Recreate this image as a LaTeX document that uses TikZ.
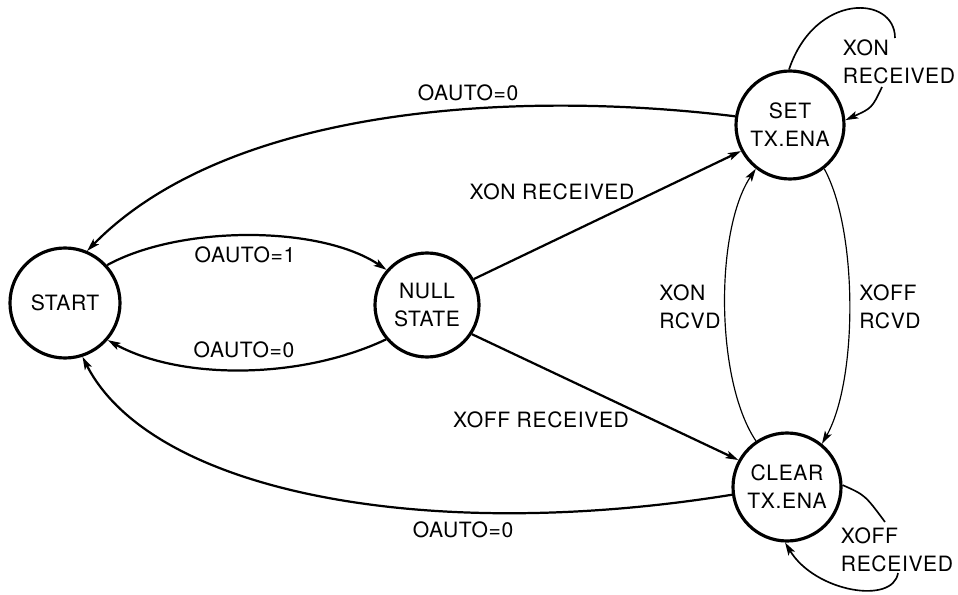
\documentclass[tikz,border=0pt]{standalone}
\usepackage{fontspec}
\setmainfont{TeX Gyre Heros}[LetterSpace=3]
\usetikzlibrary{arrows.meta}
\begin{document}
\begin{tikzpicture}[x=0.03cm,y=-0.03cm,
  txt/.style={font=\fontsize{18}{24}\selectfont},
  stnode/.style={circle,draw,line width=2.7pt,minimum size=3.24cm,inner sep=0pt,align=center,txt},
  lbl/.style={txt,inner sep=0pt,align=left},
  tip/.style={-{Stealth[length=11pt,width=6.5pt,inset=2.5pt]}},
  mainedge/.style={tip,line width=1.9pt},
  thinedge/.style={tip,line width=1pt},
  loopedge/.style={line width=1.4pt}]
\useasboundingbox (0,0) rectangle (958,595);
% states
\node[stnode,minimum size=3.3cm] (start) at (65,303) {START};
\node[stnode,minimum size=3.12cm] (null) at (427,305) {NULL\\STATE};
\node[stnode] (set) at (790,125) {SET\\TX.ENA};
\node[stnode] (clear) at (787,487) {CLEAR\\TX.ENA};
% transitions
\draw[mainedge] (set.171) .. controls (520,90) and (230,105) .. (start.67);
\draw[mainedge] (start.42) .. controls (180,225) and (320,225) .. (null.139);
\draw[mainedge] (null.220) .. controls (300,380) and (180,380) .. (start.319);
\draw[mainedge] (null.29) -- (set.208);
\draw[mainedge] (null.327) -- (clear.151);
\draw[thinedge] (clear.124) .. controls (715,380) and (715,230) .. (set.232);
\draw[thinedge] (set.308) .. controls (858,230) and (858,380) .. (clear.51);
\draw[mainedge] (clear.188) .. controls (420,545) and (150,490) .. (start.288);
% self loops
\coordinate (la) at (895,38);
\coordinate (lb) at (882,87);
\draw[loopedge] (set.91) .. controls (815,-8) and (895,-5) .. (la);
\draw[loopedge,tip] (lb) .. controls (872,108) .. (set.5);
\coordinate (lc) at (885,522);
\coordinate (ld) at (898,573);
\draw[loopedge] (clear.2) .. controls (865,495) .. (lc);
\draw[loopedge,tip] (ld) .. controls (893,605) and (815,592) .. (clear.268);
% labels
\node[lbl] (l1) at (468,93) {OAUTO=0};
\node[lbl] (l2) at (245,255) {OAUTO=1};
\node[lbl] (l3) at (244,350) {OAUTO=0};
\node[lbl] (l4) at (552,192) {XON RECEIVED};
\node[lbl] (l5) at (541,420) {XOFF RECEIVED};
\node[lbl] (l6) at (463,530) {OAUTO=0};
\node[lbl] (l7) at (690,307) {XON\\RCVD};
\node[lbl] (l8) at (890,307) {XOFF\\RCVD};
\node[lbl] (l9) at (899,62) {XON\\RECEIVED};
\node[lbl] (l10) at (897,550) {XOFF\\RECEIVED};
\end{tikzpicture}
\end{document}
